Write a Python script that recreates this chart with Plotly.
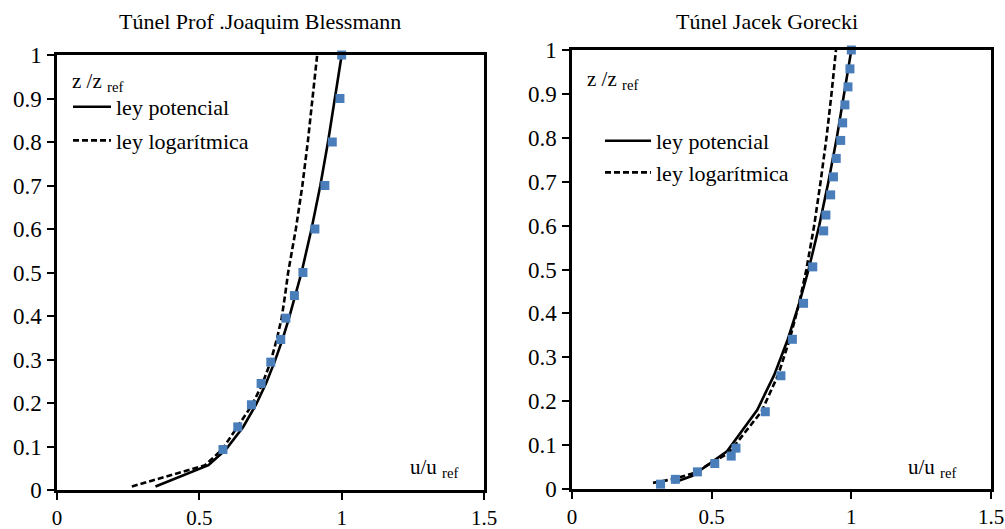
import plotly.graph_objects as go

# --- Túnel Prof. Joaquim Blessmann -------------------------------------
left_z_obs = [1.0, 0.9, 0.8, 0.7, 0.6, 0.5, 0.447, 0.395, 0.346, 0.294, 0.245, 0.196, 0.145, 0.093]
left_u_obs = [1.0, 0.994, 0.967, 0.941, 0.906, 0.864, 0.834, 0.804, 0.786, 0.751, 0.717, 0.683, 0.635, 0.583]

left_z_fit = [0.008, 0.057, 0.093, 0.145, 0.196, 0.245, 0.294, 0.346, 0.395, 0.447, 0.5, 0.6, 0.7, 0.8, 0.9, 1.0]
left_u_pot = [0.346, 0.532, 0.593, 0.654, 0.699, 0.734, 0.764, 0.792, 0.815, 0.838, 0.859, 0.894, 0.925, 0.952, 0.977, 1.0]
left_u_log = [0.263, 0.52, 0.58, 0.635, 0.686, 0.722, 0.75, 0.772, 0.789, 0.801, 0.812, 0.839, 0.862, 0.881, 0.898, 0.914]

# --- Túnel Jacek Gorecki -----------------------------------------------
right_z_obs = [1.0, 0.957, 0.916, 0.875, 0.834, 0.794, 0.753, 0.711, 0.670, 0.624, 0.588, 0.506,
               0.423, 0.341, 0.258, 0.176, 0.093, 0.075, 0.058, 0.039, 0.022, 0.011]
right_u_obs = [1.0, 0.995, 0.988, 0.977, 0.969, 0.962, 0.946, 0.936, 0.926, 0.909, 0.901, 0.862,
               0.829, 0.789, 0.748, 0.692, 0.587, 0.570, 0.511, 0.449, 0.370, 0.317]

right_z_pot = [0.015, 0.03, 0.086, 0.18, 0.26, 0.34, 0.42, 0.5, 0.6, 0.7, 0.8, 0.9, 1.0]
right_u_pot = [0.365, 0.431, 0.555, 0.663, 0.724, 0.772, 0.812, 0.847, 0.885, 0.918, 0.948, 0.975, 1.0]
right_z_log = [0.014, 0.023, 0.036, 0.082, 0.177, 0.26, 0.34, 0.42, 0.5, 0.6, 0.7, 0.8, 0.9, 1.0]
right_u_log = [0.29, 0.366, 0.435, 0.561, 0.679, 0.738, 0.779, 0.812, 0.839, 0.867, 0.890, 0.911, 0.929, 0.945]

titles = ["Túnel Prof .Joaquim Blessmann", "Túnel Jacek Gorecki"]
legend_names = ["ley potencial", "ley logarítmica"]
y_ticks = [0, 0.1, 0.2, 0.3, 0.4, 0.5, 0.6, 0.7, 0.8, 0.9, 1]
y_ticktext = ["0", "0.1", "0.2", "0.3", "0.4", "0.5", "0.6", "0.7", "0.8", "0.9", "1"]
x_ticks = [0, 0.5, 1, 1.5]
x_ticktext = ["0", "0.5", "1", "1.5"]

FONT = "Liberation Serif"
MARKER_BLUE = "#4A7EBB"

fig = go.Figure()

panels = [
    dict(xa="x", ya="y", leg="legend",
         zp=left_z_fit, up=left_u_pot, zl=left_z_fit, ul=left_u_log,
         zo=left_z_obs, uo=left_u_obs),
    dict(xa="x2", ya="y2", leg="legend2",
         zp=right_z_pot, up=right_u_pot, zl=right_z_log, ul=right_u_log,
         zo=right_z_obs, uo=right_u_obs),
]

for p in panels:
    fig.add_trace(go.Scatter(
        x=p["up"], y=p["zp"], mode="lines", name=legend_names[0],
        line=dict(color="black", width=2.6), xaxis=p["xa"], yaxis=p["ya"],
        legend=p["leg"], legendgroup="pot", showlegend=True))
    fig.add_trace(go.Scatter(
        x=p["ul"], y=p["zl"], mode="lines", name=legend_names[1],
        line=dict(color="black", width=2.6, dash="6px,3px"), xaxis=p["xa"], yaxis=p["ya"],
        legend=p["leg"], legendgroup="log", showlegend=True))
    fig.add_trace(go.Scatter(
        x=p["uo"], y=p["zo"], mode="markers", name="medido",
        marker=dict(symbol="square", size=9, color=MARKER_BLUE),
        xaxis=p["xa"], yaxis=p["ya"], showlegend=False, cliponaxis=False))

W, H = 1005, 529


def px(x):
    return x / W


def py(y):
    return 1 - y / H


axis_common = dict(
    showgrid=False, zeroline=False, showline=True, linecolor="black", linewidth=2.5,
    mirror=True, ticks="outside", ticklen=7, tickwidth=2, tickcolor="black",
    automargin=False,
)
xtick_font = dict(family=FONT, size=21, color="black")
ytick_font = dict(family=FONT, size=23, color="black")

fig.update_layout(
    width=W, height=H,
    margin=dict(l=0, r=0, t=0, b=0, autoexpand=False),
    paper_bgcolor="white", plot_bgcolor="white",
    xaxis=dict(domain=[px(57), px(484)], range=[0, 1.5], anchor="y", tickfont=xtick_font,
               tickvals=x_ticks, ticktext=x_ticktext, ticklabelstandoff=0, **axis_common),
    yaxis=dict(domain=[py(490), py(55)], range=[0, 1], anchor="x", tickfont=ytick_font,
               tickvals=y_ticks, ticktext=y_ticktext, ticklabelstandoff=1, **axis_common),
    xaxis2=dict(domain=[px(572), px(991)], range=[0, 1.5], anchor="y2", tickfont=xtick_font,
                tickvals=x_ticks, ticktext=x_ticktext, ticklabelstandoff=0, **axis_common),
    yaxis2=dict(domain=[py(489), py(50)], range=[0, 1], anchor="x2", tickfont=ytick_font,
                tickvals=y_ticks, ticktext=y_ticktext, ticklabelstandoff=1, **axis_common),
    legend=dict(x=px(68), y=py(86), xanchor="left", yanchor="top",
                bgcolor="rgba(0,0,0,0)", itemwidth=38, traceorder="grouped",
                tracegroupgap=2, font=dict(family=FONT, size=22, color="black")),
    legend2=dict(x=px(600), y=py(120), xanchor="left", yanchor="top",
                 bgcolor="rgba(0,0,0,0)", itemwidth=46, traceorder="grouped",
                 tracegroupgap=0, font=dict(family=FONT, size=22, color="black")),
    showlegend=True,
)

# Panel titles
fig.add_annotation(text=titles[0], x=px(260), y=py(22), xref="paper", yref="paper",
                   xanchor="center", yanchor="middle", showarrow=False,
                   font=dict(family=FONT, size=22, color="black"))
fig.add_annotation(text=titles[1], x=px(767), y=py(22), xref="paper", yref="paper",
                   xanchor="center", yanchor="middle", showarrow=False,
                   font=dict(family=FONT, size=22, color="black"))

# Axis captions inside each panel
for xl, yl in [(70, 82), (585, 80)]:
    fig.add_annotation(text="z /z <sub>ref</sub>", x=px(xl), y=py(yl), xref="paper", yref="paper",
                       xanchor="left", yanchor="middle", showarrow=False,
                       font=dict(family=FONT, size=21, color="black"))
for xl, yl in [(408, 468), (906, 468)]:
    fig.add_annotation(text="u/u <sub>ref</sub>", x=px(xl), y=py(yl), xref="paper", yref="paper",
                       xanchor="left", yanchor="middle", showarrow=False,
                       font=dict(family=FONT, size=21, color="black"))

fig.write_html("out.html")
